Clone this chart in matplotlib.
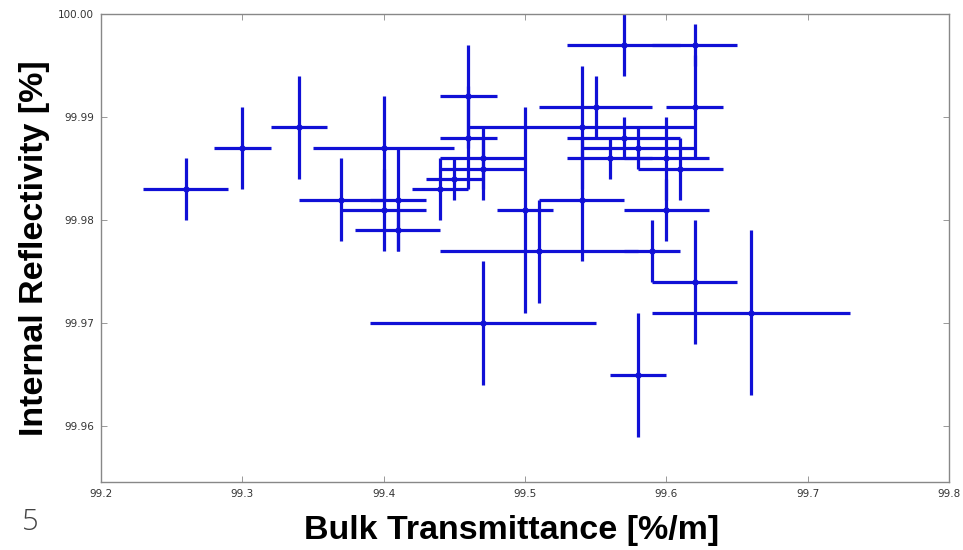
import matplotlib
matplotlib.use('Agg')
import matplotlib.pyplot as plt

# bulk transmittance [%/m] and internal reflectivity [%] with errors
transmittance = [99.26, 99.30, 99.34, 99.37, 99.40, 99.40, 99.41, 99.41, 99.44, 99.45,
                 99.46, 99.46, 99.47, 99.47, 99.47, 99.50, 99.51, 99.54, 99.54, 99.55,
                 99.56, 99.57, 99.57, 99.58, 99.58, 99.59, 99.60, 99.60, 99.61, 99.62,
                 99.62, 99.62, 99.66]
trans_err = [0.03, 0.02, 0.02, 0.03, 0.05, 0.03, 0.02, 0.03, 0.02, 0.02,
             0.02, 0.02, 0.03, 0.03, 0.08, 0.02, 0.07, 0.08, 0.03, 0.04,
             0.03, 0.04, 0.04, 0.04, 0.02, 0.02, 0.03, 0.03, 0.03, 0.03,
             0.02, 0.03, 0.07]
reflectivity = [99.983, 99.987, 99.989, 99.982, 99.987, 99.981, 99.982, 99.979, 99.983, 99.984,
                99.992, 99.988, 99.986, 99.985, 99.970, 99.981, 99.977, 99.989, 99.982, 99.991,
                99.986, 99.997, 99.988, 99.987, 99.965, 99.977, 99.986, 99.981, 99.985, 99.997,
                99.991, 99.974, 99.971]
refl_err = [0.003, 0.004, 0.005, 0.004, 0.005, 0.004, 0.005, 0.002, 0.003, 0.002,
            0.005, 0.005, 0.003, 0.003, 0.006, 0.010, 0.005, 0.006, 0.006, 0.003,
            0.002, 0.003, 0.002, 0.002, 0.006, 0.003, 0.004, 0.003, 0.003, 0.002,
            0.005, 0.006, 0.008]

xticks = [99.2, 99.3, 99.4, 99.5, 99.6, 99.7, 99.8]
yticks = [99.96, 99.97, 99.98, 99.99, 100.00]

fig = plt.figure(figsize=(9.63, 5.5), dpi=100)
ax = fig.add_axes([0.1049, 0.1236, 0.8806, 0.8509])

ax.errorbar(transmittance, reflectivity, xerr=trans_err, yerr=refl_err,
            fmt='o', color='#1010d6', ecolor='#1010d6', markersize=3.5,
            elinewidth=2.3, capsize=0)

ax.set_xlim(99.2, 99.8)
ax.set_ylim(99.9546, 100.0)
ax.set_xticks(xticks)
ax.set_xticklabels(['%.1f' % t for t in xticks])
ax.set_yticks(yticks)
ax.set_yticklabels(['%.2f' % t for t in yticks])
ax.tick_params(direction='in', length=4, width=0.6, colors='#888888',
               labelcolor='#333333', labelsize=7.5, top=True, right=True, pad=5)
for s in ax.spines.values():
    s.set_color('#888888')
    s.set_linewidth(1.0)

fig.text(0.531, 0.036, 'Bulk Transmittance [%/m]', ha='center', va='center',
         fontsize=24.5, fontweight='bold', family='Liberation Sans')
fig.text(0.036, 0.549, 'Internal Reflectivity [%]', ha='center', va='center',
         rotation=90, fontsize=24.5, fontweight='bold', family='Liberation Sans')
fig.text(0.031, 0.05, '5', ha='center', va='center', fontsize=21,
         color='#444444', family='Open Sans', fontweight='light')

fig.savefig('out.png', dpi=100)
